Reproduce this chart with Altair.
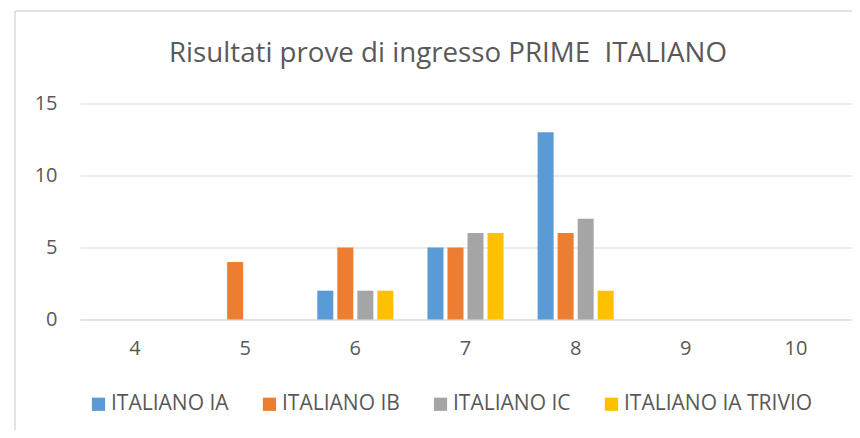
import altair as alt
import pandas as pd

categories = ["4", "5", "6", "7", "8", "9", "10"]
series = ["ITALIANO IA", "ITALIANO IB", "ITALIANO IC", "ITALIANO IA TRIVIO"]
values_ia = [0, 0, 2, 5, 13, 0, 0]
values_ib = [0, 4, 5, 5, 6, 0, 0]
values_ic = [0, 0, 2, 6, 7, 0, 0]
values_trivio = [0, 0, 2, 6, 2, 0, 0]
colors = ["#5B9BD5", "#ED7D31", "#A5A5A5", "#FFC000"]
y_ticks = [0, 5, 10, 15]
title_text = "Risultati prove di ingresso PRIME\u00a0 ITALIANO"

rows = []
for name, vals in zip(series, [values_ia, values_ib, values_ic, values_trivio]):
    for c, v in zip(categories, vals):
        rows.append({"voto": c, "serie": name, "valore": v})
df = pd.DataFrame(rows)

FONT = "Open Sans"
TXT = "#595959"
GRID = "#D9D9D9"

bars = alt.Chart(df).mark_bar().encode(
    x=alt.X("voto:N", sort=categories, title=None,
            scale=alt.Scale(paddingInner=0.273, paddingOuter=0.136),
            axis=alt.Axis(labelAngle=0, ticks=False, domainColor=GRID, domainWidth=1,
                          labelPadding=19, labelFontSize=20, labelColor=TXT, labelFont=FONT)),
    xOffset=alt.XOffset("serie:N", sort=series,
                        scale=alt.Scale(paddingInner=0.2, paddingOuter=0.1)),
    y=alt.Y("valore:Q", title=None,
            scale=alt.Scale(domain=[0, 15], nice=False),
            axis=alt.Axis(values=y_ticks, domain=False, ticks=False, gridColor=GRID,
                          gridWidth=1, labelPadding=23, labelFontSize=20,
                          labelColor=TXT, labelFont=FONT)),
    color=alt.Color("serie:N", sort=series, title=None,
                    scale=alt.Scale(domain=series, range=colors),
                    legend=alt.Legend(orient="none", direction="horizontal", columns=4,
                                      legendX=8, legendY=290, symbolType="square",
                                      symbolSize=175, symbolStrokeWidth=0, symbolOpacity=1,
                                      labelFontSize=21, labelFont=FONT, labelColor=TXT,
                                      labelOffset=2, columnPadding=30, labelLimit=400)),
)

title = alt.Chart(alt.Data(values=[{"t": title_text}])).mark_text(
    font=FONT, fontSize=27.7, color=TXT, align="center", baseline="alphabetic"
).encode(x=alt.value(368), y=alt.value(-42), text="t:N")

border = alt.Chart(alt.Data(values=[{}])).mark_rule(color=GRID, strokeWidth=1.5).encode(
    x=alt.value(-65), x2=alt.value(772), y=alt.value(-92.5), y2=alt.value(-92.5)
)
border_v = alt.Chart(alt.Data(values=[{}])).mark_rule(color=GRID, strokeWidth=1.5).encode(
    x=alt.value(-65), x2=alt.value(-65), y=alt.value(-92.5), y2=alt.value(330)
)

chart = alt.layer(bars, title, border, border_v).properties(
    width=771,
    height=216,
    autosize=alt.AutoSizeParams(type="none"),
    padding={"left": 72, "top": 95.5, "right": 1, "bottom": 110},
).configure_view(stroke=None)

chart.save("out.html", embed_options={"renderer": "svg", "actions": False})
